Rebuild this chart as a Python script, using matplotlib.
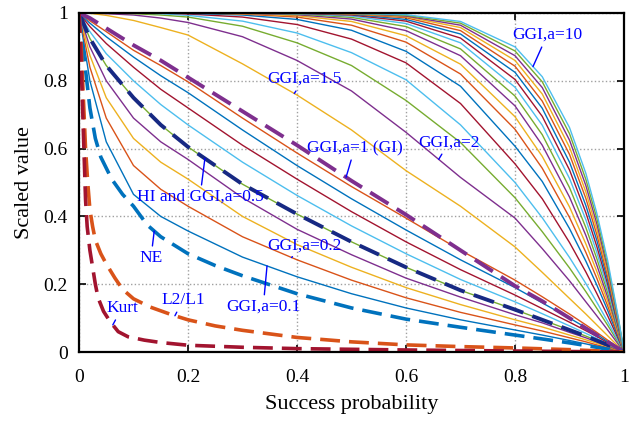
import numpy as np
import matplotlib
matplotlib.use('Agg')
import matplotlib.pyplot as plt

plt.rcParams['font.family'] = ['Liberation Serif', 'DejaVu Serif']

# sample points on the success-probability axis
xs = [0, 0.02, 0.05, 0.1, 0.15, 0.2, 0.3, 0.4, 0.5, 0.6, 0.7, 0.8, 0.85, 0.9, 0.93, 0.95, 0.97, 0.99, 1.0]

# GGI curves, a < 1
ggi_01 = [1, .80, .62, .465, .40, .357, .28, .222, .172, .13, .095, .065, .05, .034, .024, .017, .01, .003, 0]
ggi_02 = [1, .84, .69, .55, .48, .43, .34, .272, .212, .16, .117, .08, .062, .042, .03, .021, .013, .004, 0]
ggi_03 = [1, .875, .75, .63, .56, .51, .40, .317, .25, .19, .14, .095, .074, .05, .036, .026, .016, .005, 0]
ggi_04 = [1, .90, .80, .69, .62, .568, .455, .362, .287, .218, .162, .11, .086, .058, .042, .03, .018, .006, 0]
ggi_05 = [1, .925, .845, .75, .67, .605, .495, .407, .325, .25, .182, .125, .095, .065, .047, .034, .021, .007, 0]
ggi_06 = [1, .945, .88, .80, .73, .67, .56, .462, .372, .29, .214, .148, .113, .077, .055, .04, .024, .008, 0]
ggi_07 = [1, .96, .91, .84, .775, .72, .61, .51, .414, .325, .243, .168, .128, .088, .063, .046, .028, .009, 0]
ggi_08 = [1, .97, .93, .87, .815, .765, .655, .55, .452, .36, .272, .19, .145, .1, .072, .052, .031, .01, 0]
ggi_09 = [1, .977, .945, .89, .845, .797, .69, .587, .488, .395, .30, .212, .163, .112, .08, .058, .035, .012, 0]

# GGI curves, a > 1
ggi_15 = [1, .999, .993, .978, .957, .935, .85, .758, .655, .535, .43, .31, .235, .158, .112, .08, .048, .016, 0]
ggi_20 = [1, 1, .998, .994, .985, .972, .93, .86, .77, .648, .515, .395, .305, .21, .148, .107, .065, .022, 0]
ggi_25 = [1, 1, 1, .998, .994, .988, .961, .912, .845, .742, .618, .455, .355, .248, .178, .129, .079, .027, 0]
ggi_30 = [1, 1, 1, 1, .998, .993, .976, .941, .883, .803, .67, .50, .396, .279, .202, .147, .09, .031, 0]
ggi_35 = [1, 1, 1, 1, 1, .997, .988, .966, .923, .853, .733, .555, .452, .323, .236, .173, .107, .037, 0]
ggi_40 = [1, 1, 1, 1, 1, .999, .994, .981, .949, .887, .784, .607, .503, .364, .268, .198, .123, .042, 0]
ggi_45 = [1, 1, 1, 1, 1, 1, .997, .988, .964, .914, .82, .657, .542, .397, .294, .218, .136, .047, 0]
ggi_50 = [1, 1, 1, 1, 1, 1, .998, .992, .975, .933, .849, .694, .577, .428, .319, .238, .149, .052, 0]
ggi_55 = [1, 1, 1, 1, 1, 1, .999, .995, .982, .948, .874, .726, .61, .457, .344, .257, .162, .057, 0]
ggi_60 = [1, 1, 1, 1, 1, 1, 1, .997, .987, .96, .894, .755, .641, .485, .367, .276, .175, .061, 0]
ggi_65 = [1, 1, 1, 1, 1, 1, 1, .998, .991, .969, .912, .781, .669, .512, .39, .294, .187, .066, 0]
ggi_70 = [1, 1, 1, 1, 1, 1, 1, .999, .994, .976, .926, .804, .695, .537, .411, .312, .20, .071, 0]
ggi_75 = [1, 1, 1, 1, 1, 1, 1, 1, .996, .981, .938, .825, .719, .56, .432, .33, .212, .075, 0]
ggi_80 = [1, 1, 1, 1, 1, 1, 1, 1, .997, .986, .948, .843, .74, .583, .453, .347, .224, .08, 0]
ggi_85 = [1, 1, 1, 1, 1, 1, 1, 1, .998, .989, .957, .86, .761, .604, .472, .363, .235, .085, 0]
ggi_90 = [1, 1, 1, 1, 1, 1, 1, 1, .999, .991, .964, .874, .78, .625, .491, .379, .247, .089, 0]
ggi_95 = [1, 1, 1, 1, 1, 1, 1, 1, .999, .993, .97, .888, .797, .644, .509, .395, .258, .094, 0]
ggi_100 = [1, 1, 1, 1, 1, 1, 1, 1, .999, .995, .975, .90, .812, .662, .527, .41, .27, .098, 0]

# GI (GGI with a=1)
gi = [1, .985, .955, .905, .86, .81, .71, .61, .505, .405, .30, .195, .15, .1, .07, .05, .03, .01, 0]

# NE
ne_x = [0, 0.005, 0.01, 0.015, 0.02, 0.03, 0.04, 0.06, 0.08, 0.1, 0.125, 0.15, 0.2, 0.25, 0.3, 0.4, 0.5, 0.6, 0.7, 0.8, 0.9, 0.95, 1]
ne_y = [1, .93, .86, .79, .72, .63, .575, .51, .465, .43, .375, .34, .29, .255, .225, .172, .13, .097, .073, .05, .027, .014, 0]

# L2/L1
l2l1_x = [0, 0.004, 0.008, 0.012, 0.016, 0.02, 0.025, 0.03, 0.04, 0.05, 0.066, 0.08, 0.1, 0.13, 0.17, 0.2, 0.25, 0.3, 0.4, 0.5, 0.6, 0.7, 0.8, 0.9, 1]
l2l1_y = [1, .9, .75, .6, .5, .42, .37, .33, .29, .26, .218, .185, .157, .133, .11, .095, .077, .064, .043, .03, .021, .016, .012, .007, 0]

# Kurtosis
kurt_x = [0, 0.003, 0.006, 0.009, 0.012, 0.015, 0.02, 0.025, 0.03, 0.035, 0.045, 0.057, 0.072, 0.09, 0.12, 0.15, 0.2, 0.3, 0.4, 0.6, 0.8, 1]
kurt_y = [1, .9, .75, .6, .45, .37, .3, .25, .2, .16, .12, .09, .06, .045, .035, .028, .02, .014, .01, .006, .003, 0]

ggi_low = [ggi_01, ggi_02, ggi_03, ggi_04, ggi_05, ggi_06, ggi_07, ggi_08, ggi_09]
ggi_high = [ggi_15, ggi_20, ggi_25, ggi_30, ggi_35, ggi_40, ggi_45, ggi_50, ggi_55,
            ggi_60, ggi_65, ggi_70, ggi_75, ggi_80, ggi_85, ggi_90, ggi_95, ggi_100]

colors = ['#0072BD', '#D95319', '#EDB120', '#7E2F8E', '#77AC30', '#4DBEEE', '#A2142F']

fig = plt.figure(figsize=(6.33, 4.23), dpi=100)
ax = fig.add_axes([0.1248, 0.1678, 0.861, 0.8015])

for i, curve in enumerate(ggi_low + ggi_high):
    ax.plot(xs, curve, color=colors[i % 7], lw=1.0)

dash = (5.5, 2.5)
ax.plot(xs, ggi_05, color='#172983', lw=2.8, dashes=dash)  # HI
ax.plot(xs, gi, color='#7E2F8E', lw=2.8, dashes=dash)
ax.plot(ne_x, ne_y, color='#0072BD', lw=2.6, dashes=dash)
ax.plot(l2l1_x, l2l1_y, color='#D95319', lw=2.6, dashes=dash)
ax.plot(kurt_x, kurt_y, color='#A2142F', lw=2.6, dashes=dash)


def note(text, x, curve_x, curve_y, tx, ty):
    y = np.interp(x, curve_x, curve_y)
    ax.annotate(text, xy=(x, y), xytext=(tx, ty), color='b', fontsize=12.5,
                ha='center', va='center',
                arrowprops=dict(arrowstyle='-', color='b', lw=1.0, shrinkA=1, shrinkB=0))


note('GGI,a=10', 0.833, xs, ggi_100, 0.859, 0.935)
note('GGI,a=1.5', 0.395, xs, ggi_15, 0.413, 0.805)
note('GGI,a=1 (GI)', 0.49, xs, gi, 0.506, 0.602)
note('GGI,a=2', 0.66, xs, ggi_20, 0.679, 0.619)
note('HI and GGI,a=0.5', 0.231, xs, ggi_05, 0.222, 0.457)
note('NE', 0.138, ne_x, ne_y, 0.132, 0.277)
note('GGI,a=0.2', 0.39, xs, ggi_02, 0.413, 0.313)
note('GGI,a=0.1', 0.345, xs, ggi_01, 0.338, 0.133)
note('L2/L1', 0.176, l2l1_x, l2l1_y, 0.191, 0.153)
note('Kurt', 0.062, kurt_x, kurt_y, 0.079, 0.13)

ax.set_xlim(0, 1)
ax.set_ylim(0, 1)
ticks = [0, 0.2, 0.4, 0.6, 0.8, 1]
labels = ['0', '0.2', '0.4', '0.6', '0.8', '1']
ax.set_xticks(ticks, labels)
ax.set_yticks(ticks, labels)
ax.tick_params(direction='in', top=True, right=True, length=5, width=1.2, labelsize=14)
ax.tick_params(axis='x', pad=12)
ax.tick_params(axis='y', pad=8)
for s in ax.spines.values():
    s.set_linewidth(1.6)
ax.grid(True, linestyle=':', color='#a0a0a0', lw=1.0)
ax.set_axisbelow(True)
ax.set_xlabel('Success probability', fontsize=16, labelpad=7)
ax.set_ylabel('Scaled value', fontsize=16, labelpad=7)

fig.savefig('out.png', dpi=100)
